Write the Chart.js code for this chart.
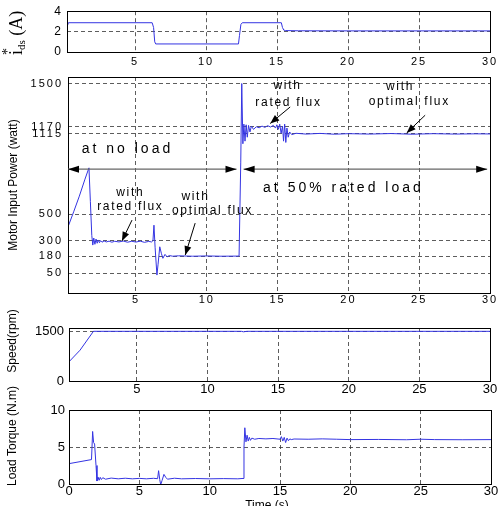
<!DOCTYPE html>
<html>
<head>
<meta charset="utf-8">
<script src="https://cdn.jsdelivr.net/npm/chart.js@4.4.1/dist/chart.umd.min.js"></script>
<style>
  html, body { margin: 0; padding: 0; background: #fff; }
  #wrap { position: relative; width: 504px; height: 506px; overflow: hidden; }
  canvas { position: absolute; left: 0; top: 0; }
</style>
</head>
<body>
<div id="wrap">
  <canvas id="c1" width="504" height="506"></canvas>
  <canvas id="c2" width="504" height="506"></canvas>
  <canvas id="c3" width="504" height="506"></canvas>
  <canvas id="c4" width="504" height="506"></canvas>
</div>
<script>
/////////////// DATA ///////////////

const timeTicksTop = [5, 10, 15, 20, 25, 30];
const timeTicksBottom = [0, 5, 10, 15, 20, 25, 30];

// i*ds (A)
const idsT = [0.2, 0.3, 6.2, 6.3, 6.38, 6.45, 12.28, 12.35, 12.45, 12.55, 15.3, 15.38, 15.47, 15.6, 16.5, 20, 30];
const idsV = [2.45, 2.87, 2.87, 2.4, 1.0, 0.79, 0.79, 1.6, 2.7, 2.87, 2.87, 2.4, 2.15, 2.1, 2.08, 2.07, 2.07];
const idsTicks = [0, 2, 4];

// motor input power (watt)
const powT = [0.2, 0.6, 1.0, 1.4, 1.68, 1.78, 1.88, 1.95, 2.02, 2.1, 2.18, 2.26, 2.34, 2.42, 2.5, 2.6, 2.75, 2.9, 3.1, 3.3,
  3.5, 3.8, 4.1, 4.4, 4.7, 5.0, 5.3, 5.6, 5.9, 6.1, 6.2, 6.27, 6.35, 6.48, 6.56, 6.68, 6.8, 6.9, 7.05, 7.2,
  7.35, 7.6, 8.0, 9.0, 10.0, 11.0, 12.28, 12.4, 12.47, 12.55, 12.62, 12.7, 12.78, 12.86, 12.95, 13.05, 13.15, 13.3, 13.5, 13.7,
  13.9, 14.1, 14.3, 14.5, 14.7, 14.85, 14.95, 15.05, 15.15, 15.25, 15.35, 15.42, 15.5, 15.58, 15.66, 15.75, 15.85, 16.0, 16.3, 17.0,
  18.0, 19.0, 20.0, 21.5, 23.0, 24.5, 26.0, 27.5, 29.0, 30.0];
const powV = [405, 520, 640, 770, 856, 600, 340, 266, 320, 272, 312, 280, 305, 284, 300, 288, 298, 290, 296, 288,
  295, 290, 297, 288, 295, 289, 296, 287, 294, 290, 300, 418, 250, 37, 120, 253, 200, 165, 195, 176,
  186, 181, 184, 181, 183, 181, 182, 900, 1500, 1040, 1190, 1060, 1185, 1090, 1180, 1130, 1175, 1150, 1170, 1162,
  1175, 1165, 1178, 1168, 1180, 1160, 1185, 1150, 1190, 1120, 1175, 1060, 1190, 1050, 1160, 1090, 1130, 1110, 1120, 1114,
  1119, 1113, 1117, 1114, 1118, 1113, 1117, 1114, 1116, 1115];
const powTicks = [50, 180, 300, 500, 1115, 1170, 1500];

// speed (rpm)
const spdT = [0.2, 0.98, 1.93, 5, 10, 12.4, 12.55, 12.8, 20, 30];
const spdV = [580, 930, 1500, 1500, 1500, 1500, 1485, 1500, 1500, 1500];
const spdTicks = [0, 1500];

// load torque (N.m)
const trqT = [0, 1.6, 1.68, 1.75, 1.82, 1.92, 1.99, 2.06, 2.14, 2.22, 2.3, 2.4, 2.6, 3.0, 3.5, 4.0, 4.5, 5.0, 5.5, 6.0,
  6.3, 6.37, 6.45, 6.52, 6.62, 6.75, 6.88, 7.0, 7.5, 8.0, 9.0, 10.0, 11.0, 12.0, 12.37, 12.44, 12.5, 12.58, 12.66, 12.74,
  12.82, 12.9, 13.0, 13.2, 13.5, 14.0, 14.5, 15.0, 15.1, 15.2, 15.3, 15.4, 15.5, 15.6, 15.7, 15.8, 16.0, 17.0, 18.0, 19.0,
  20.0, 22.0, 24.0, 25.0, 26.0, 28.0, 30.0];
const trqV = [2.75, 3.3, 7.1, 5.6, 5.4, 2.5, 0.4, 0.95, 0.5, 0.9, 0.6, 0.85, 0.65, 0.8, 0.7, 0.78, 0.7, 0.76, 0.7, 0.77,
  0.72, 1.8, 0.6, -0.1, 0.5, 1.3, 0.9, 0.65, 0.78, 0.7, 0.74, 0.7, 0.73, 0.7, 0.75, 5.0, 7.6, 5.7, 6.6, 5.8,
  6.3, 5.9, 6.2, 6.05, 6.15, 6.1, 6.15, 6.05, 6.4, 5.8, 6.3, 5.6, 6.2, 5.85, 6.1, 6.0, 6.08, 6.05, 6.1, 6.05,
  6.0, 6.02, 5.98, 6.05, 6.0, 5.98, 6.0];
const trqTicks = [0, 5, 10];

// annotations on the power plot, in (time, watt)
const loadArrows = [[0.2, 12.1, 846], [12.6, 29.8, 846]];
const loadLabels = [
  { text: 'at no load', t: 4.4, v: 998 },
  { text: 'at 50% rated load', t: 19.65, v: 701 }
];
const fluxLabels = [
  { text: 'with', t: 4.6, v: 670 }, { text: 'rated flux', t: 4.6, v: 556 },
  { text: 'with', t: 9.2, v: 638 }, { text: 'optimal flux', t: 10.4, v: 527 },
  { text: 'with', t: 15.7, v: 1487 }, { text: 'rated flux', t: 15.77, v: 1355 },
  { text: 'with', t: 23.65, v: 1479 }, { text: 'optimal flux', t: 24.3, v: 1360 }
];
const fluxArrows = [[4.72, 457, 4.01, 298], [9.18, 434, 8.48, 190], [15.89, 1321, 14.48, 1195], [25.42, 1258, 24.12, 1123]];

/////////////// HELPERS ///////////////

const SANS = '"Liberation Sans", Arial, sans-serif';
const SERIF = '"Liberation Serif", "Times New Roman", serif';

function vtext(ctx, text, x, y, size) {   // rotated axis title, centred at x,y
  ctx.save();
  ctx.letterSpacing = '0px';
  ctx.translate(x, y);
  ctx.rotate(-Math.PI / 2);
  ctx.font = size + 'px ' + SANS;
  ctx.fillStyle = '#000';
  ctx.textAlign = 'center';
  ctx.textBaseline = 'middle';
  ctx.fillText(text, 0, 0);
  ctx.restore();
}

function arrowHead(ctx, x0, y0, x1, y1, len, half) {
  const a = Math.atan2(y1 - y0, x1 - x0);
  const c = Math.cos(a), s = Math.sin(a);
  ctx.beginPath();
  ctx.moveTo(x1, y1);
  ctx.lineTo(x1 - len * c + half * s, y1 - len * s - half * c);
  ctx.lineTo(x1 - len * c - half * s, y1 - len * s + half * c);
  ctx.closePath();
  ctx.fill();
}

function makeChart(id, o) {
  const frame = {
    id: 'frame',
    beforeDraw(c) { c.ctx.letterSpacing = o.spacing || '0px'; },
    afterDraw(c) {
      const a = c.chartArea, ctx = c.ctx;
      ctx.save();
      ctx.strokeStyle = '#000';
      ctx.lineWidth = 1;
      ctx.strokeRect(Math.round(a.left) + 0.5, Math.round(a.top) + 0.5, Math.round(a.right - a.left), Math.round(a.bottom - a.top));
      ctx.restore();
      if (o.extra) o.extra(c);
    }
  };
  return new Chart(document.getElementById(id), {
    type: 'line',
    data: {
      datasets: [{
        data: o.t.map((x, i) => ({ x, y: o.v[i] })),
        borderColor: '#3434e2',
        borderWidth: 1,
        pointRadius: 0,
        tension: 0
      }]
    },
    options: {
      responsive: false,
      animation: false,
      devicePixelRatio: 1,
      layout: { padding: { top: o.top, bottom: 506 - o.bottom - 16, left: 0, right: 504 - o.right } },
      plugins: { legend: { display: false }, tooltip: { enabled: false } },
      scales: {
        x: {
          type: 'linear', min: o.xmin, max: 30,
          afterBuildTicks: s => { s.ticks = o.xticks.map(v => ({ value: v })); },
          afterFit: s => { s.height = 16; },
          grid: { color: '#333', lineWidth: 0.8, drawTicks: false },
          border: { display: false, dash: [4, 3] },
          ticks: { autoSkip: false, maxRotation: 0, padding: o.xpad, color: '#000', font: o.tickFont, callback: v => String(v) }
        },
        y: {
          min: o.ymin, max: o.ymax,
          afterBuildTicks: s => { s.ticks = o.yticks.map(v => ({ value: v })); },
          afterFit: s => { s.width = o.left; },
          grid: { color: '#333', lineWidth: 0.8, drawTicks: false },
          border: { display: false, dash: [4, 3] },
          ticks: { autoSkip: false, padding: o.ypad, color: '#000', font: o.yFont || o.tickFont, callback: v => String(v) }
        }
      }
    },
    plugins: [frame]
  });
}

/////////////// PANELS ///////////////

// i*ds
makeChart('c1', {
  t: idsT, v: idsV, xticks: timeTicksTop, yticks: idsTicks,
  xmin: 0.2, ymin: 0, ymax: 4,
  left: 67, right: 490, top: 5, bottom: 52,
  xpad: 3, ypad: 4, spacing: '2px',
  tickFont: { family: SANS, size: 11 }, yFont: { family: SANS, size: 12 },
  extra(c) {
    const ctx = c.ctx;
    ctx.save();
    ctx.letterSpacing = '0px';
    ctx.translate(22, 55);
    ctx.rotate(-Math.PI / 2);
    ctx.fillStyle = '#000';
    ctx.textAlign = 'left';
    ctx.textBaseline = 'alphabetic';
    ctx.font = '18px ' + SERIF;
    ctx.fillText('i', 0, 0);
    const wi = ctx.measureText('i').width;
    ctx.font = '11px ' + SERIF;
    ctx.fillText('ds', wi, 3);
    const wd = ctx.measureText('ds').width;
    ctx.font = '14px ' + SERIF;
    ctx.fillText('*', 0, -10);
    ctx.font = '18px ' + SERIF;
    ctx.fillText(' (A)', wi + wd, 0);
    ctx.restore();
  }
});

// motor input power
makeChart('c2', {
  t: powT, v: powV, xticks: timeTicksTop, yticks: powTicks,
  xmin: 0.2, ymin: -100, ymax: 1550,
  left: 68, right: 490, top: 77, bottom: 293,
  xpad: 0, ypad: 5, spacing: '2px',
  tickFont: { family: SANS, size: 11 },
  extra(c) {
    const ctx = c.ctx, xs = c.scales.x, ys = c.scales.y;
    vtext(ctx, 'Motor Input Power (watt)', 14, 185, 12);
    ctx.save();
    // double arrows for the load regions
    loadArrows.forEach(([t0, t1, v]) => {
      const x0 = xs.getPixelForValue(t0), x1 = xs.getPixelForValue(t1), y = ys.getPixelForValue(v);
      ctx.strokeStyle = '#666';
      ctx.lineWidth = 1.2;
      ctx.beginPath(); ctx.moveTo(x0, y); ctx.lineTo(x1, y); ctx.stroke();
      ctx.fillStyle = '#000';
      arrowHead(ctx, x1, y, x0, y, 11, 3.5);
      arrowHead(ctx, x0, y, x1, y, 11, 3.5);
    });
    ctx.fillStyle = '#000';
    ctx.textAlign = 'center';
    ctx.textBaseline = 'middle';
    ctx.font = '14px ' + SANS;
    ctx.letterSpacing = '3px';
    loadLabels.forEach(l => ctx.fillText(l.text, xs.getPixelForValue(l.t), ys.getPixelForValue(l.v)));
    ctx.font = '12px ' + SANS;
    ctx.letterSpacing = '1.7px';
    fluxLabels.forEach(l => ctx.fillText(l.text, xs.getPixelForValue(l.t), ys.getPixelForValue(l.v)));
    // pointer arrows
    ctx.strokeStyle = '#000';
    ctx.lineWidth = 1;
    fluxArrows.forEach(([t0, v0, t1, v1]) => {
      const x0 = xs.getPixelForValue(t0), y0 = ys.getPixelForValue(v0);
      const x1 = xs.getPixelForValue(t1), y1 = ys.getPixelForValue(v1);
      ctx.beginPath(); ctx.moveTo(x0, y0); ctx.lineTo(x1, y1); ctx.stroke();
      arrowHead(ctx, x0, y0, x1, y1, 9, 3.5);
    });
    ctx.restore();
  }
});

// speed
makeChart('c3', {
  t: spdT, v: spdV, xticks: timeTicksTop, yticks: spdTicks,
  xmin: 0.2, ymin: 0, ymax: 1600,
  left: 69, right: 490, top: 328, bottom: 381,
  xpad: 1, ypad: 5,
  tickFont: { family: SANS, size: 13 },
  extra(c) { vtext(c.ctx, 'Speed(rpm)', 13, 341, 12); }
});

// load torque
makeChart('c4', {
  t: trqT, v: trqV, xticks: timeTicksBottom, yticks: trqTicks,
  xmin: 0, ymin: 0, ymax: 10,
  left: 69, right: 491, top: 410, bottom: 484,
  xpad: 0, ypad: 4,
  tickFont: { family: SANS, size: 13 },
  extra(c) {
    const ctx = c.ctx;
    vtext(ctx, 'Load Torque (N.m)', 13, 436, 12);
    ctx.save();
    ctx.fillStyle = '#000';
    ctx.font = '12px ' + SANS;
    ctx.textAlign = 'center';
    ctx.textBaseline = 'top';
    ctx.fillText('Time (s)', 267, 500);
    ctx.restore();
  }
});
</script>
</body>
</html>
